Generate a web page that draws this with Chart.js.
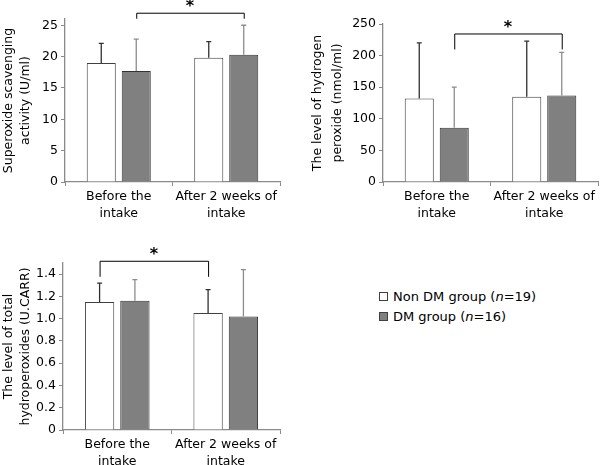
<!DOCTYPE html>
<html>
<head>
<meta charset="utf-8">
<script src="https://cdn.jsdelivr.net/npm/chart.js@4.4.1/dist/chart.umd.min.js"></script>
<style>
  html, body { margin:0; padding:0; background:#fff; overflow:hidden; }
  body { width:603px; height:465px; position:relative; font-family:'DejaVu Sans', Verdana, sans-serif; }
  .box { position:absolute; }
  .legend { position:absolute; left:379px; top:287px; font-size:13px; color:#000; }
  .legend div { height:20px; line-height:20px; white-space:nowrap; }
  .legend span.sq { display:inline-block; width:7px; height:7px; border:1px solid #404040; margin-right:5px; vertical-align:0px; }
</style>
</head>
<body>
<div class="box" style="left:0;top:0;width:300px;height:230px"><canvas id="c1"></canvas></div>
<div class="box" style="left:300px;top:0;width:303px;height:230px"><canvas id="c2"></canvas></div>
<div class="box" style="left:0;top:230px;width:300px;height:245px"><canvas id="c3"></canvas></div>
<div class="legend">
  <div><span class="sq" style="background:#fff"></span>Non DM group (<i>n</i>=19)</div>
  <div><span class="sq" style="background:#808080"></span>DM group (<i>n</i>=16)</div>
</div>
<script>
// Категории и группы
const categories = [['Before the', 'intake'], ['After 2 weeks of', 'intake']];
const groupNames = ['Non DM group (n=19)', 'DM group (n=16)'];

// Супероксид
const soNonDM = [19.0, 19.8];
const soNonDMsd = [3.1, 2.6];
const soDM = [17.7, 20.3];
const soDMsd = [5.1, 4.7];

// Перекись водорода
const hpNonDM = [132, 135];
const hpNonDMsd = [88, 88];
const hpDM = [86, 137];
const hpDMsd = [64, 68];

// Гидропероксиды
const thNonDM = [1.15, 1.05];
const thNonDMsd = [0.17, 0.21];
const thDM = [1.16, 1.02];
const thDMsd = [0.19, 0.42];

// Скобки значимости: [набор, категория] -> [набор, категория], уровень
const soBracket = { from:[1,0], to:[1,1], level:27.0, drop:6 };
const hpBracket = { from:[1,0], to:[1,1], level:235, drop:16 };
const thBracket = { from:[0,0], to:[0,1], level:1.52, drop:16 };

Chart.defaults.font.family = "'DejaVu Sans', Verdana, sans-serif";
Chart.defaults.font.size = 12.5;
Chart.defaults.color = '#000';

const axisGray = '#8a8a8a';

// Усы ошибок (только вверх)
const errorBars = {
  id: 'errorBars',
  afterDatasetsDraw(chart) {
    const ctx = chart.ctx;
    const y = chart.scales.y;
    chart.data.datasets.forEach((ds, di) => {
      const meta = chart.getDatasetMeta(di);
      meta.data.forEach((bar, i) => {
        const top = y.getPixelForValue(ds.data[i] + ds.sd[i]);
        ctx.save();
        ctx.strokeStyle = ds.errColor;
        ctx.lineWidth = 1.3;
        ctx.beginPath();
        ctx.moveTo(bar.x, bar.y);
        ctx.lineTo(bar.x, top);
        ctx.moveTo(bar.x - 2.5, top);
        ctx.lineTo(bar.x + 2.5, top);
        ctx.stroke();
        ctx.restore();
      });
    });
  }
};

// Скобка со звёздочкой
const sigBracket = {
  id: 'sigBracket',
  afterDraw(chart) {
    const b = chart.options.plugins.sigBracket;
    if (!b) return;
    const ctx = chart.ctx;
    const x1 = chart.getDatasetMeta(b.from[0]).data[b.from[1]].x;
    const x2 = chart.getDatasetMeta(b.to[0]).data[b.to[1]].x;
    const yy = chart.scales.y.getPixelForValue(b.level);
    ctx.save();
    ctx.strokeStyle = '#000';
    ctx.lineWidth = 1;
    ctx.beginPath();
    ctx.moveTo(x1 + 0.5, yy + b.drop);
    ctx.lineTo(x1 + 0.5, yy + 0.5);
    ctx.lineTo(x2 + 0.5, yy + 0.5);
    ctx.lineTo(x2 + 0.5, yy + b.drop);
    ctx.stroke();
    ctx.fillStyle = '#000';
    ctx.font = "bold 16px 'DejaVu Sans'";
    ctx.textAlign = 'center';
    ctx.textBaseline = 'middle';
    ctx.fillText('*', (x1 + x2) / 2, yy - 6);
    ctx.restore();
  }
};

function makeChart(id, cfg) {
  const ctx = document.getElementById(id).getContext('2d');
  return new Chart(ctx, {
    type: 'bar',
    data: {
      labels: categories,
      datasets: [
        { label: groupNames[0], data: cfg.a, sd: cfg.asd, backgroundColor:'#fff', borderColor:'#404040', borderWidth:1, errColor:'#303030' },
        { label: groupNames[1], data: cfg.b, sd: cfg.bsd, backgroundColor:'#808080', borderColor:'#333', borderWidth:1, errColor:'#8c8c8c' }
      ]
    },
    options: {
      responsive: true,
      maintainAspectRatio: false,
      animation: false,
      datasets: { bar: { categoryPercentage: 0.651, barPercentage: 0.83 } },
      layout: { padding: { left:0, top:cfg.top, right:cfg.right, bottom:0 } },
      plugins: { legend:{ display:false }, tooltip:{ enabled:false }, sigBracket: cfg.bracket },
      scales: {
        x: {
          grid: { display:true, drawOnChartArea:false, drawTicks:true, tickLength:4, color:axisGray, offset:true },
          border: { color:axisGray, width:1.3 },
          ticks: { padding:2, maxRotation:0, font:{ size:12.5, lineHeight:1.35 } },
          afterFit(s) { s.height = cfg.xh; }
        },
        y: {
          min: 0, max: cfg.max,
          grid: { drawOnChartArea:false, drawTicks:true, tickLength:4, color:axisGray },
          border: { color:axisGray, width:1.3 },
          ticks: { stepSize: cfg.step, includeBounds:false, padding:3, font:{ size:12.5 }, callback: cfg.fmt },
          title: { display:true, text: cfg.title, padding:{ top:cfg.tpad, bottom:0 }, font:{ size:12.5, lineHeight:cfg.tlh } },
          afterFit(s) { s.width = cfg.yw; }
        }
      }
    },
    plugins: [errorBars, sigBracket]
  });
}

makeChart('c1', {
  a: soNonDM, asd: soNonDMsd, b: soDM, bsd: soDMsd,
  max: 26, step: 5, title: ['Superoxide scavenging', 'activity (U/ml)'],
  top: 19, right: 20, yw: 65, xh: 48, tpad: 0, tlh: 1.35,
  bracket: soBracket, fmt: v => v
});
makeChart('c2', {
  a: hpNonDM, asd: hpNonDMsd, b: hpDM, bsd: hpDMsd,
  max: 250, step: 50, title: ['The level of hydrogen', 'peroxide (nmol/ml)'],
  top: 24, right: 5, yw: 83, xh: 48, tpad: 8, tlh: 1.6,
  bracket: hpBracket, fmt: v => v
});
makeChart('c3', {
  a: thNonDM, asd: thNonDMsd, b: thDM, bsd: thDMsd,
  max: 1.5, step: 0.2, title: ['The level of total', 'hydroperoxides (U.CARR)'],
  top: 33, right: 20, yw: 63, xh: 45, tpad: 0, tlh: 1.35,
  bracket: thBracket, fmt: v => v === 0 ? '0' : v.toFixed(1)
});
</script>
</body>
</html>
